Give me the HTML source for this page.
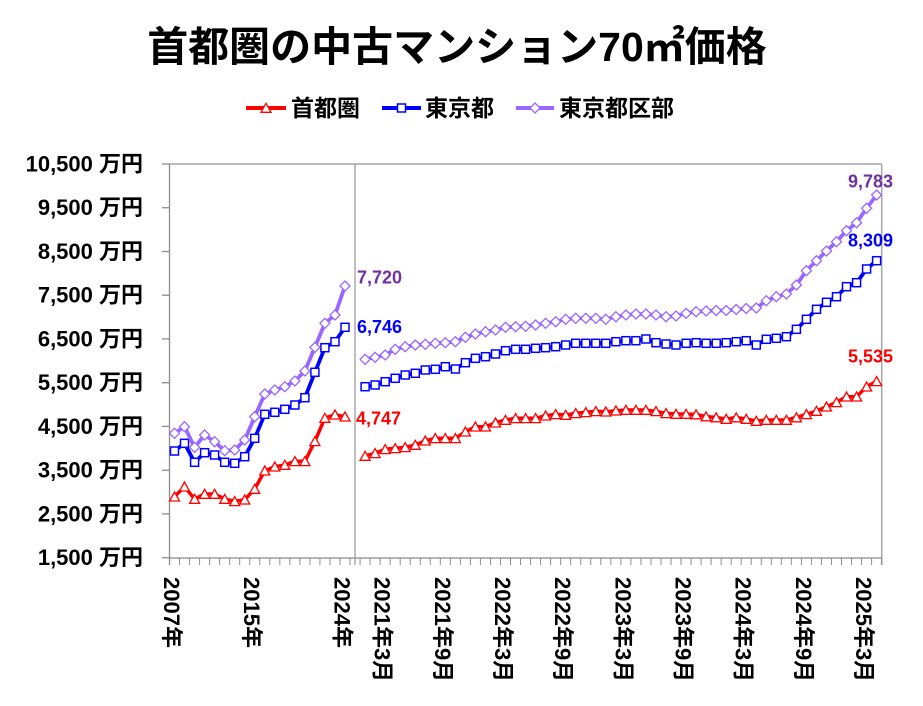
<!DOCTYPE html>
<html>
<head>
<meta charset="utf-8">
<style>
html,body{margin:0;padding:0;background:#fff;}
svg{display:block;}
text{font-family:"Liberation Sans","Noto Sans CJK JP",sans-serif;font-weight:bold;}
</style>
</head>
<body>
<svg width="923" height="706" viewBox="0 0 923 706" xmlns="http://www.w3.org/2000/svg">
<defs>
<marker id="mt" markerWidth="12" markerHeight="12" refX="6" refY="6" markerUnits="userSpaceOnUse" overflow="visible">
<path d="M6,1.3 L11,10.3 L1,10.3 Z" fill="#fff" stroke="#ff0000" stroke-width="1.3"/>
</marker>
<marker id="ms" markerWidth="12" markerHeight="12" refX="6" refY="6" markerUnits="userSpaceOnUse" overflow="visible">
<rect x="2" y="2" width="8" height="8" fill="#fff" stroke="#0000ff" stroke-width="1.5"/>
</marker>
<marker id="md" markerWidth="12" markerHeight="12" refX="6" refY="6" markerUnits="userSpaceOnUse" overflow="visible">
<path d="M6,1 L11,6 L6,11 L1,6 Z" fill="#fff" stroke="#9966ff" stroke-width="1.3"/>
</marker>
<pattern id="tk" x="169" y="558" width="10.03" height="7" patternUnits="userSpaceOnUse">
<rect x="0" y="0" width="1" height="7" fill="#8c8c8c"/>
</pattern>
</defs>

<!-- Title -->
<text x="457" y="47" text-anchor="middle" dominant-baseline="central" font-size="41" fill="#000">首都圏の中古マンション70㎡価格</text>

<!-- Legend -->
<line x1="246" y1="108" x2="286" y2="108" stroke="#ff0000" stroke-width="4"/>
<path d="M266,103.3 L271,112.3 L261,112.3 Z" fill="#fff" stroke="#ff0000" stroke-width="1.3"/>
<text x="291" y="108" dominant-baseline="central" font-size="23" fill="#000">首都圏</text>
<line x1="382" y1="108" x2="421" y2="108" stroke="#0000ff" stroke-width="4"/>
<rect x="397.5" y="104" width="8" height="8" fill="#fff" stroke="#0000ff" stroke-width="1.5"/>
<text x="425" y="108" dominant-baseline="central" font-size="23" fill="#000">東京都</text>
<line x1="516" y1="108" x2="554" y2="108" stroke="#9966ff" stroke-width="4"/>
<path d="M535,103 L540,108 L535,113 L530,108 Z" fill="#fff" stroke="#9966ff" stroke-width="1.3"/>
<text x="559" y="108" dominant-baseline="central" font-size="23" fill="#000">東京都区部</text>

<!-- Plot frame -->
<line x1="169.5" y1="164" x2="881.7" y2="164" stroke="#a6a6a6" stroke-width="1.5"/>
<line x1="881.7" y1="164" x2="881.7" y2="565" stroke="#a6a6a6" stroke-width="1.5"/>
<line x1="169.5" y1="164" x2="169.5" y2="565" stroke="#8c8c8c" stroke-width="1.3"/>
<line x1="169.5" y1="558" x2="881.7" y2="558" stroke="#8c8c8c" stroke-width="1.3"/>
<line x1="355" y1="164" x2="355" y2="565" stroke="#808080" stroke-width="1"/>
<rect x="169" y="558" width="714" height="7" fill="url(#tk)"/>

<!-- Y ticks -->
<g stroke="#8c8c8c" stroke-width="1.3">
<line x1="162" y1="164" x2="170" y2="164"/>
<line x1="162" y1="207.7" x2="170" y2="207.7"/>
<line x1="162" y1="251.5" x2="170" y2="251.5"/>
<line x1="162" y1="295.2" x2="170" y2="295.2"/>
<line x1="162" y1="338.9" x2="170" y2="338.9"/>
<line x1="162" y1="382.7" x2="170" y2="382.7"/>
<line x1="162" y1="426.4" x2="170" y2="426.4"/>
<line x1="162" y1="470.2" x2="170" y2="470.2"/>
<line x1="162" y1="513.9" x2="170" y2="513.9"/>
<line x1="162" y1="557.7" x2="170" y2="557.7"/>
</g>

<!-- Y labels -->
<g font-size="22" fill="#000" text-anchor="end" dominant-baseline="central">
<text x="143" y="164">10,500 万円</text>
<text x="143" y="207.7">9,500 万円</text>
<text x="143" y="251.5">8,500 万円</text>
<text x="143" y="295.2">7,500 万円</text>
<text x="143" y="338.9">6,500 万円</text>
<text x="143" y="382.7">5,500 万円</text>
<text x="143" y="426.4">4,500 万円</text>
<text x="143" y="470.2">3,500 万円</text>
<text x="143" y="513.9">2,500 万円</text>
<text x="143" y="557.7">1,500 万円</text>
</g>

<!-- X labels -->
<g font-size="22" fill="#000" dominant-baseline="central">
<text transform="translate(171.5,577) rotate(90)">2007年</text>
<text transform="translate(251.7,577) rotate(90)">2015年</text>
<text transform="translate(342,577) rotate(90)">2024年</text>
<text transform="translate(382.1,577) rotate(90)">2021年3月</text>
<text transform="translate(442.3,577) rotate(90)">2021年9月</text>
<text transform="translate(502.5,577) rotate(90)">2022年3月</text>
<text transform="translate(562.7,577) rotate(90)">2022年9月</text>
<text transform="translate(622.9,577) rotate(90)">2023年3月</text>
<text transform="translate(683,577) rotate(90)">2023年9月</text>
<text transform="translate(743.2,577) rotate(90)">2024年3月</text>
<text transform="translate(803.4,577) rotate(90)">2024年9月</text>
<text transform="translate(863.6,577) rotate(90)">2025年3月</text>
</g>

<!-- Series: 首都圏 -->
<g fill="none" stroke="#ff0000" stroke-width="3.5" stroke-linejoin="round" marker-start="url(#mt)" marker-mid="url(#mt)" marker-end="url(#mt)">
<polyline points="174.5,496.7 184.5,486.7 194.6,499 204.6,494 214.6,494 224.7,499 234.7,501.3 244.7,499.7 254.7,489 264.8,470.7 274.8,466.7 284.8,465 294.9,461.3 304.9,461.3 314.9,441.3 324.9,418 335,414.7 345,416.7"/>
<polyline points="365.1,456 375.1,453.3 385.2,449.3 395.2,448.3 405.2,447.3 415.3,445 425.3,440.7 435.3,438.3 445.3,438.3 455.4,438.3 465.4,431.7 475.4,426.7 485.5,426.7 495.5,422.7 505.5,420 515.6,418.3 525.6,418.3 535.6,418.3 545.6,415.7 555.7,414.3 565.7,415 575.7,413.3 585.8,412.3 595.8,411.3 605.8,411.7 615.9,410.7 625.9,410 635.9,410 645.9,410 656,411.3 666,413.3 676,414 686.1,414 696.1,414.5 706.1,416.5 716.2,417.5 726.2,419 736.2,417.5 746.2,419 756.3,421 766.3,420 776.3,420 786.4,420 796.4,417.5 806.4,414.3 816.5,411 826.5,406.7 836.5,402.3 846.5,396.7 856.6,396.7 866.6,386.7 876.6,381.3"/>
</g>

<!-- Series: 東京都 -->
<g fill="none" stroke="#0000ff" stroke-width="3.8" stroke-linejoin="round" marker-start="url(#ms)" marker-mid="url(#ms)" marker-end="url(#ms)">
<polyline points="174.5,451 184.5,443.3 194.6,462.3 204.6,452.7 214.6,455 224.7,462.3 234.7,463.3 244.7,456.7 254.7,438.3 264.8,414.3 274.8,412.3 284.8,409.3 294.9,405 304.9,397.7 314.9,372.3 324.9,347.7 335,341.7 345,327.3"/>
<polyline points="365.1,386.7 375.1,385 385.2,381.7 395.2,378.3 405.2,375 415.3,373.3 425.3,370 435.3,369.3 445.3,366.7 455.4,369 465.4,362.7 475.4,358.3 485.5,356.7 495.5,354 505.5,350.7 515.6,349.3 525.6,349.3 535.6,348.3 545.6,347.7 555.7,346.7 565.7,345 575.7,343.3 585.8,343.3 595.8,343.3 605.8,343.3 615.9,341.7 625.9,340.7 635.9,340.7 645.9,339 656,342.7 666,344 676,345 686.1,343.3 696.1,342.7 706.1,343.3 716.2,343.3 726.2,342.7 736.2,341.7 746.2,340.7 756.3,345 766.3,339.3 776.3,338.3 786.4,336.7 796.4,329.3 806.4,319.3 816.5,309.3 826.5,302.3 836.5,296.7 846.5,286.7 856.6,282.7 866.6,269 876.6,260.7"/>
</g>

<!-- Series: 東京都区部 -->
<g fill="none" stroke="#9966ff" stroke-width="3.8" stroke-linejoin="round" marker-start="url(#md)" marker-mid="url(#md)" marker-end="url(#md)">
<polyline points="174.5,433.3 184.5,426.7 194.6,447.3 204.6,435 214.6,441.7 224.7,450.7 234.7,450 244.7,440 254.7,416.7 264.8,394 274.8,390 284.8,386.7 294.9,381 304.9,371 314.9,347.3 324.9,323.3 335,315 345,286"/>
<polyline points="365.1,359.3 375.1,357.3 385.2,355 395.2,349.3 405.2,346.7 415.3,345 425.3,344.3 435.3,343.3 445.3,342.7 455.4,341.7 465.4,337.3 475.4,334 485.5,331.7 495.5,330 505.5,327.3 515.6,326.7 525.6,326.3 535.6,325 545.6,323.3 555.7,321.7 565.7,319.3 575.7,318.3 585.8,318.3 595.8,318.3 605.8,319.3 615.9,316.7 625.9,315 635.9,314 645.9,314 656,315 666,316.7 676,316 686.1,313.3 696.1,311.7 706.1,311 716.2,310.5 726.2,310.5 736.2,309.5 746.2,308.5 756.3,308 766.3,300.7 776.3,296.7 786.4,294 796.4,285 806.4,270.7 816.5,260.7 826.5,251 836.5,241.7 846.5,230.7 856.6,222.7 866.6,208.3 876.6,195"/>
</g>

<!-- Data labels -->
<g font-size="18" dominant-baseline="central">
<text x="357" y="277.3" fill="#7030a0">7,720</text>
<text x="357" y="327" fill="#0000ff">6,746</text>
<text x="356" y="418.3" fill="#ff0000">4,747</text>
<text x="893" y="181.7" fill="#7030a0" text-anchor="end">9,783</text>
<text x="893" y="240.7" fill="#0000ff" text-anchor="end">8,309</text>
<text x="893" y="356.7" fill="#ff0000" text-anchor="end">5,535</text>
</g>
</svg>
</body>
</html>
